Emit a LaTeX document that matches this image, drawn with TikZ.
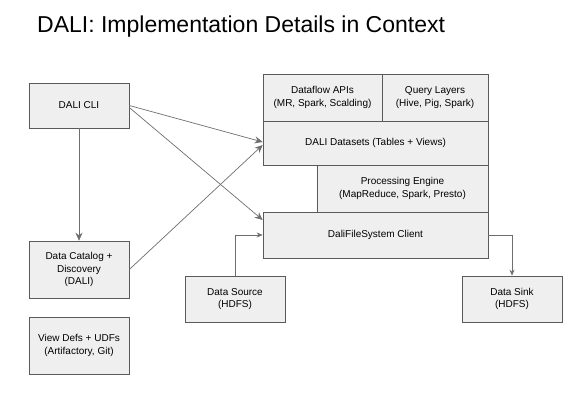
\documentclass[tikz,border=0pt]{standalone}
\usepackage{fontspec}
\setmainfont{Liberation Sans}
\usetikzlibrary{positioning, arrows.meta}

\definecolor{boxfill}{HTML}{EFEFEF}
\definecolor{boxline}{HTML}{5A5A5A}
\definecolor{arrowgray}{HTML}{6E6E6E}

\begin{document}
\begin{tikzpicture}[x=1bp, y=-1bp, >={Stealth[length=8bp, width=7bp]},
    block/.style={draw=boxline, fill=boxfill, line width=0.6bp, inner sep=0pt,
        align=center, font=\fontsize{10bp}{12.8bp}\selectfont},
    link/.style={->, draw=arrowgray, line width=0.7bp},
    smalllink/.style={-{Stealth[length=6bp, width=5bp]}, draw=arrowgray, line width=0.7bp}]

\useasboundingbox (0,0) rectangle (573,400);

% Title
\node[anchor=base west, inner sep=0pt, font=\fontsize{23bp}{27bp}\selectfont] (title) at (37,32)
    {DALI: Implementation Details in Context};

% Left column
\node[block, minimum width=100bp, minimum height=45bp] (cli) at (79,105.5) {DALI CLI};
\node[block, minimum width=100bp, minimum height=57bp] (catalog) at (79,269.5)
    {Data Catalog +\\Discovery\\(DALI)};
\node[block, minimum width=100bp, minimum height=57bp] (viewdefs) at (79,345.5)
    {View Defs + UDFs\\(Artifactory, Git)};

% Stack on the right
\node[block, minimum width=119bp, minimum height=47bp] (apis) at (322.5,97.5)
    {Dataflow APIs\\(MR, Spark, Scalding)};
\node[block, minimum width=106bp, minimum height=47bp] (query) at (435,97.5)
    {Query Layers\\(Hive, Pig, Spark)};
\node[block, minimum width=225bp, minimum height=44bp] (datasets) at (375.5,143)
    {DALI Datasets (Tables + Views)};
\node[block, minimum width=171bp, minimum height=47bp] (engine) at (402.5,188.5)
    {Processing Engine\\(MapReduce, Spark, Presto)};
\node[block, minimum width=225bp, minimum height=46bp] (dfs) at (375.5,235)
    {DaliFileSystem Client};

% Sources and sinks
\node[block, minimum width=100bp, minimum height=46bp] (source) at (235,299)
    {Data Source\\(HDFS)};
\node[block, minimum width=100bp, minimum height=46bp] (sink) at (512,299)
    {Data Sink\\(HDFS)};

% Connections
\draw[link] (cli) -- (catalog);
\draw[link] (cli.east) -- ([yshift=1bp]datasets.west);
\draw[link] ([yshift=-2bp]cli.east) -- ([yshift=15bp]dfs.west);
\draw[link] (catalog.east) -- ([yshift=-2bp]datasets.west);
\draw[smalllink] (source.north) |- (dfs.west);
\draw[smalllink] (dfs.east) -| (sink.north);

\end{tikzpicture}
\end{document}
